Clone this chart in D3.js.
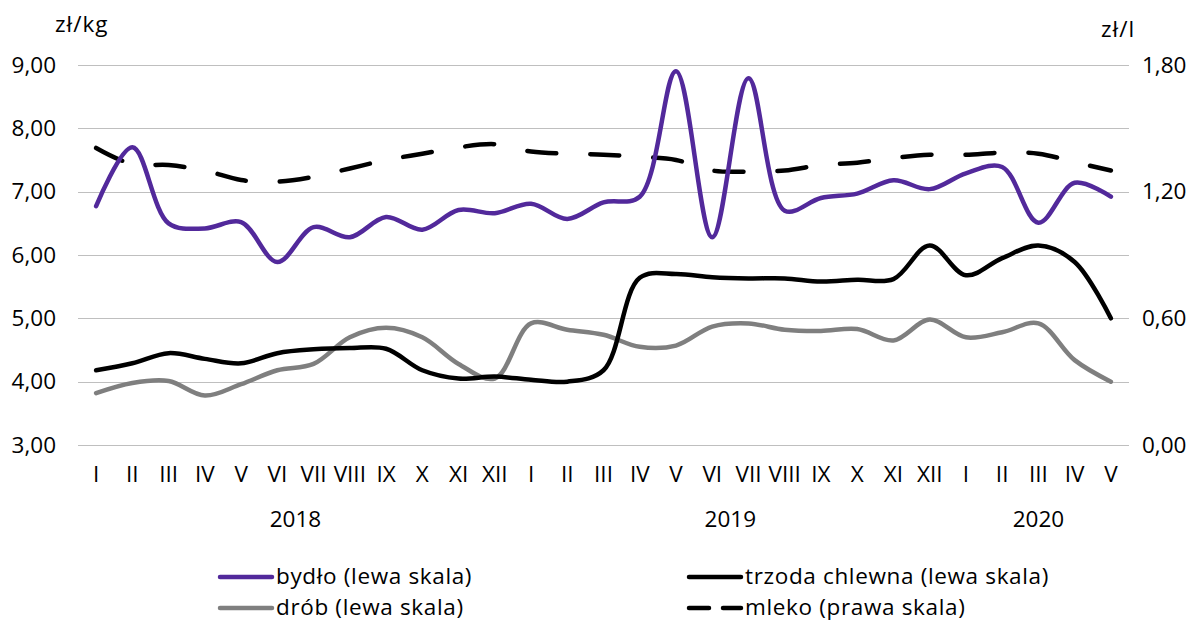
<!DOCTYPE html>
<html>
<head>
<meta charset="utf-8">
<script src="https://cdn.jsdelivr.net/npm/d3@7"></script>
<style>
  body { margin: 0; background: #fff; }
  svg { font-family: "Open Sans", sans-serif; }
</style>
</head>
<body>
<div id="chart"></div>
<script>
// months I 2018 .. V 2020
const months = ["I","II","III","IV","V","VI","VII","VIII","IX","X","XI","XII",
                "I","II","III","IV","V","VI","VII","VIII","IX","X","XI","XII",
                "I","II","III","IV","V"];
const years = [{ label: "2018", from: 0, to: 11 }, { label: "2019", from: 12, to: 23 }, { label: "2020", from: 24, to: 28 }];

const bydlo = [6.77, 7.70, 6.50, 6.42, 6.52, 5.89, 6.44, 6.28, 6.60, 6.40, 6.71, 6.66,
               6.81, 6.57, 6.83, 6.92, 8.90, 6.28, 8.79, 6.70, 6.90, 6.97, 7.18, 7.04,
               7.29, 7.39, 6.51, 7.14, 6.92];
const trzoda = [4.18, 4.29, 4.45, 4.36, 4.29, 4.45, 4.51, 4.53, 4.52, 4.18, 4.05, 4.08,
                4.03, 4.00, 4.18, 5.64, 5.70, 5.65, 5.63, 5.63, 5.58, 5.61, 5.62, 6.15,
                5.68, 5.95, 6.15, 5.89, 5.00];
const drob = [3.82, 3.98, 4.01, 3.78, 3.96, 4.18, 4.28, 4.70, 4.85, 4.70, 4.28, 4.05,
              4.92, 4.82, 4.74, 4.55, 4.57, 4.87, 4.92, 4.82, 4.80, 4.83, 4.65, 4.98,
              4.70, 4.78, 4.92, 4.34, 4.00];
const mleko = [1.407, 1.33, 1.326, 1.30, 1.255, 1.247, 1.27, 1.31, 1.35, 1.38, 1.41, 1.425,
               1.39, 1.38, 1.375, 1.365, 1.35, 1.30, 1.295, 1.30, 1.326, 1.337, 1.36, 1.375,
               1.375, 1.385, 1.38, 1.34, 1.30];

const leftTicks = [3, 4, 5, 6, 7, 8, 9];
const rightTicks = [0, 0.6, 1.2, 1.8];

const width = 1192, height = 623;
const x0 = 78, x1 = 1129, yTop = 65, yBot = 445;
const fs = 22.5;

const svg = d3.select("#chart").append("svg")
    .attr("width", width).attr("height", height);

const x = d3.scaleBand().domain(d3.range(months.length)).range([x0, x1]);
const cx = i => x(i) + x.bandwidth() / 2;
const yL = d3.scaleLinear().domain([3, 9]).range([yBot, yTop]);
const yR = d3.scaleLinear().domain([0, 1.8]).range([yBot, yTop]);
const fmt = v => d3.format(".2f")(v).replace(".", ",");

// grid
svg.append("g").selectAll("line").data(leftTicks).join("line")
    .attr("x1", x0).attr("x2", x1)
    .attr("y1", d => Math.round(yL(d)) + 0.5).attr("y2", d => Math.round(yL(d)) + 0.5)
    .attr("stroke", "#bfbfbf").attr("stroke-width", 1.2);

function styleAxis(g) {
  g.select(".domain").remove();
  g.selectAll("text").attr("font-size", fs).attr("fill", "#000").attr("font-family", "Open Sans");
}

// left axis
svg.append("g").attr("transform", "translate(56,0)")
    .call(d3.axisLeft(yL).tickValues(leftTicks).tickFormat(fmt).tickSize(0).tickPadding(0))
    .call(styleAxis);

// right axis
svg.append("g").attr("transform", "translate(1142,0)")
    .call(d3.axisRight(yR).tickValues(rightTicks).tickFormat(fmt).tickSize(0).tickPadding(0))
    .call(styleAxis);

// units
svg.append("text").attr("x", 55).attr("y", 32).attr("font-size", fs)
    .attr("letter-spacing", 1).text("zł/kg");
svg.append("text").attr("x", 1101).attr("y", 37).attr("font-size", fs)
    .attr("letter-spacing", 1).text("zł/l");

// month labels
svg.append("g").attr("transform", "translate(0,466)")
    .call(d3.axisBottom(x).tickFormat(i => months[i]).tickSize(0).tickPadding(0))
    .call(styleAxis);

svg.append("g").selectAll("text").data(years).join("text")
    .attr("x", d => (cx(d.from) + cx(d.to)) / 2).attr("y", 527)
    .attr("text-anchor", "middle").attr("font-size", fs).text(d => d.label);

// series
const series = [
  { name: "bydło (lewa skala)", values: bydlo, y: yL, color: "#52299b", dash: null },
  { name: "trzoda chlewna (lewa skala)", values: trzoda, y: yL, color: "#000000", dash: null },
  { name: "drób (lewa skala)", values: drob, y: yL, color: "#7f7f7f", dash: null },
  { name: "mleko (prawa skala)", values: mleko, y: yR, color: "#000000", dash: "29,34" }
];

const drawOrder = [series[3], series[2], series[1], series[0]];
drawOrder.forEach(s => {
  const line = d3.line().x((d, i) => cx(i)).y(d => s.y(d)).curve(d3.curveCatmullRom.alpha(0.5));
  svg.append("path").datum(s.values)
      .attr("d", line)
      .attr("fill", "none")
      .attr("stroke", s.color)
      .attr("stroke-width", 4.5)
      .attr("stroke-linecap", "round")
      .attr("stroke-dasharray", s.dash);
});

// legend
const legendPos = [
  { x: 218, y: 577 }, { x: 687, y: 577 }, { x: 218, y: 608 }, { x: 687, y: 608 }
];
series.forEach((s, k) => {
  const p = legendPos[k];
  const g = svg.append("g").attr("transform", `translate(${p.x},${p.y})`);
  g.append("line").attr("x1", 2).attr("x2", 54).attr("y1", 0).attr("y2", 0)
      .attr("stroke", s.color).attr("stroke-width", 4.5).attr("stroke-linecap", "round")
      .attr("stroke-dasharray", s.dash ? "20,14" : null);
  g.append("text").attr("x", 58).attr("y", 0).attr("dy", "0.3em")
      .attr("font-size", fs).attr("letter-spacing", 0.65).text(s.name);
});
</script>
</body>
</html>
